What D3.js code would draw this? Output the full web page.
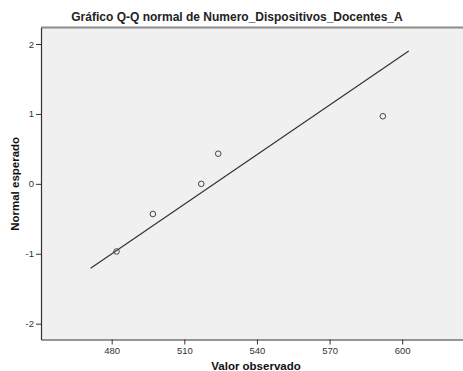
<!DOCTYPE html>
<html>
<head>
<meta charset="utf-8">
<script src="https://cdn.jsdelivr.net/npm/d3@7"></script>
<style>
  body { margin: 0; background: #fff; }
  svg { display: block; font-family: "Liberation Sans", Arial, sans-serif; }
</style>
</head>
<body>
<svg id="chart" width="463" height="371"></svg>
<script>
// observed values and their expected normal scores
const observed = [482, 497, 517, 524, 592];
const expected = [-0.967, -0.431, 0, 0.431, 0.967];
const xTicks = [480, 510, 540, 570, 600];
const yTicks = [-2, -1, 0, 1, 2];
const lineRange = [471.3, 602.7];

const svg = d3.select('#chart');
const plotLeft = 41, plotTop = 27.5, plotBottom = 339.5, plotRight = 470;

const x = d3.scaleLinear().domain([450.8, 628]).range([plotLeft, plotRight]);
const y = d3.scaleLinear().domain([-2.226, 2.236]).range([plotBottom, plotTop]);

const mean = d3.mean(observed);
const sd = d3.deviation(observed);

// plot background
svg.append('rect')
    .attr('x', plotLeft).attr('y', plotTop)
    .attr('width', plotRight - plotLeft).attr('height', plotBottom - plotTop)
    .attr('fill', '#f0f0f0');

svg.append('line')
    .attr('x1', plotLeft).attr('x2', plotRight)
    .attr('y1', plotTop).attr('y2', plotTop)
    .attr('stroke', '#8c8c8c').attr('stroke-width', 2);

// axes
const xAxis = svg.append('g')
    .attr('transform', `translate(0,${plotBottom})`)
    .call(d3.axisBottom(x).tickValues(xTicks).tickFormat(d => String(d))
        .tickSize(5).tickSizeOuter(0).tickPadding(3));
const yAxis = svg.append('g')
    .attr('transform', `translate(${plotLeft},0)`)
    .call(d3.axisLeft(y).tickValues(yTicks).tickFormat(d => String(d))
        .tickSize(5).tickSizeOuter(0).tickPadding(2));

[xAxis, yAxis].forEach(g => {
    g.select('.domain').attr('stroke', '#333').attr('stroke-width', 1.2);
    g.selectAll('.tick line').attr('stroke', '#333');
    g.selectAll('.tick text').attr('fill', '#333').attr('font-size', '9.5px');
});

// reference line
svg.append('line')
    .attr('x1', x(lineRange[0])).attr('y1', y((lineRange[0] - mean) / sd))
    .attr('x2', x(lineRange[1])).attr('y2', y((lineRange[1] - mean) / sd))
    .attr('stroke', '#333').attr('stroke-width', 1.2);

// points
svg.append('g').selectAll('circle')
    .data(observed)
    .enter()
    .append('circle')
    .attr('cx', d => x(d))
    .attr('cy', (d, i) => y(expected[i]))
    .attr('r', 2.8)
    .attr('fill', 'none')
    .attr('stroke', '#444')
    .attr('stroke-width', 1);

// titles
svg.append('text')
    .attr('x', 237).attr('y', 21)
    .attr('text-anchor', 'middle')
    .attr('font-size', '12px')
    .attr('font-weight', 'bold')
    .attr('fill', '#222')
    .text('Gráfico Q-Q normal de Numero_Dispositivos_Docentes_A');

svg.append('text')
    .attr('x', 256).attr('y', 369.5)
    .attr('text-anchor', 'middle')
    .attr('font-size', '11.5px')
    .attr('font-weight', 'bold')
    .attr('fill', '#111')
    .text('Valor observado');

svg.append('text')
    .attr('transform', `translate(19,${y(0)}) rotate(-90)`)
    .attr('text-anchor', 'middle')
    .attr('font-size', '11.5px')
    .attr('font-weight', 'bold')
    .attr('fill', '#111')
    .text('Normal esperado');
</script>
</body>
</html>
